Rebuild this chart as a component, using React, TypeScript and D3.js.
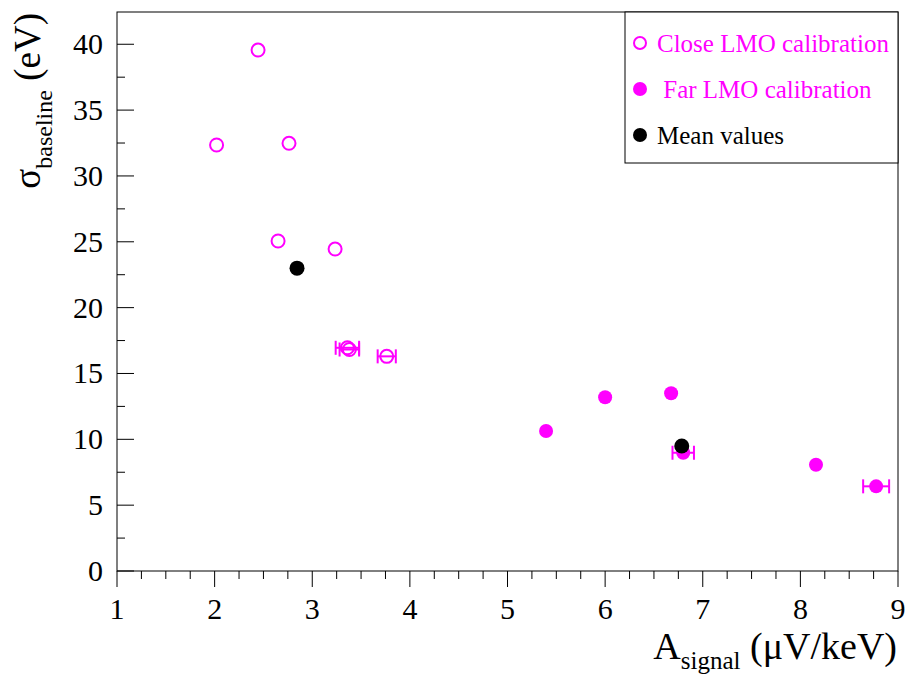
import React from 'react';
import * as d3 from 'd3';

// Close LMO calibration (open circles)
const closeX = [2.445, 2.02, 2.762, 2.65, 3.234, 3.36, 3.38, 3.763];
const closeY = [39.56, 32.35, 32.48, 25.06, 24.45, 16.95, 16.82, 16.3];
const closeXErr = [0, 0, 0, 0, 0, 0.12, 0.1, 0.093];

// Far LMO calibration (filled magenta)
const farX = [5.395, 6.0, 6.676, 6.8, 8.16, 8.776];
const farY = [10.63, 13.2, 13.5, 8.98, 8.07, 6.43];
const farXErr = [0, 0, 0, 0.11, 0, 0.133];

// Mean values (black)
const meanX = [2.844, 6.785];
const meanY = [23.0, 9.49];

const xTicks = [1, 2, 3, 4, 5, 6, 7, 8, 9];
const yTicks = [0, 5, 10, 15, 20, 25, 30, 35, 40];

const legendItems = [
  { label: 'Close LMO calibration', kind: 'open' },
  { label: ' Far LMO calibration', kind: 'far' },
  { label: 'Mean values', kind: 'mean' },
];

const W = 908;
const H = 675;
const margin = { top: 12, right: 10, bottom: 104, left: 117 };
const MAGENTA = '#ff00ff';
const FONT = '"Liberation Serif", "Times New Roman", serif';

const App = () => {
  const x = d3.scaleLinear().domain([1, 9]).range([margin.left, W - margin.right]);
  const y = d3.scaleLinear().domain([0, 42.45]).range([H - margin.bottom, margin.top]);

  const x0 = margin.left;
  const x1 = W - margin.right;
  const y0 = H - margin.bottom;
  const y1 = margin.top;

  const xMinor = d3.range(1, 9.001, 0.25);
  const yMinor = d3.range(0, 42.4, 2.5);

  const errBar = (cx: number, cy: number, err: number, key: string) => {
    if (!err) return null;
    const l = x(cx - err);
    const r = x(cx + err);
    const py = y(cy);
    return (
      <g key={key} stroke={MAGENTA} strokeWidth={2}>
        <line x1={l} x2={r} y1={py} y2={py} />
        <line x1={l} x2={l} y1={py - 7} y2={py + 7} />
        <line x1={r} x2={r} y1={py - 7} y2={py + 7} />
      </g>
    );
  };

  return (
    <svg width={W} height={H} style={{ position: 'absolute', left: 0, top: 0, background: '#fff' }}>
      <rect width={W} height={H} fill="#fff" />

      {/* frame */}
      <rect x={x0} y={y1} width={x1 - x0} height={y0 - y1} fill="none" stroke="#000" strokeWidth={1} />

      {/* x ticks */}
      {xMinor.map((v, i) => {
        const major = Math.abs(v - Math.round(v)) < 1e-6;
        return (
          <line key={'xt' + i} x1={x(v)} x2={x(v)} y1={y0} y2={y0 + (major ? 16 : 8)} stroke="#000" strokeWidth={1} />
        );
      })}
      {xTicks.map(v => (
        <text key={'xl' + v} x={x(v)} y={619} textAnchor="middle" fontFamily={FONT} fontSize={30} fill="#000">
          {v}
        </text>
      ))}

      {/* y ticks */}
      {yMinor.map((v, i) => {
        const major = Math.abs(v / 5 - Math.round(v / 5)) < 1e-6;
        return (
          <line key={'yt' + i} x1={x0} x2={x0 + (major ? 17 : 8)} y1={y(v)} y2={y(v)} stroke="#000" strokeWidth={1} />
        );
      })}
      {yTicks.map(v => (
        <text key={'yl' + v} x={103} y={y(v) + 10} textAnchor="end" fontFamily={FONT} fontSize={30} fill="#000">
          {v}
        </text>
      ))}

      {/* axis titles */}
      <text x={897} y={659} textAnchor="end" fontFamily={FONT} fontSize={38} fill="#000">
        A<tspan fontSize={25} dy={10}>signal</tspan>
        <tspan dy={-10}> (μV/keV)</tspan>
      </text>
      <text transform="translate(40,13) rotate(-90)" textAnchor="end" fontFamily={FONT} fontSize={37} fill="#000">
        σ<tspan fontSize={24} dy={12}>baseline</tspan>
        <tspan dy={-12}> (eV)</tspan>
      </text>

      {/* error bars */}
      {closeX.map((v, i) => errBar(v, closeY[i], closeXErr[i], 'ce' + i))}
      {farX.map((v, i) => errBar(v, farY[i], farXErr[i], 'fe' + i))}

      {/* points */}
      {closeX.map((v, i) => (
        <circle key={'c' + i} cx={x(v)} cy={y(closeY[i])} r={6.5} fill="none" stroke={MAGENTA} strokeWidth={2} />
      ))}
      {farX.map((v, i) => (
        <circle key={'f' + i} cx={x(v)} cy={y(farY[i])} r={7} fill={MAGENTA} />
      ))}
      {meanX.map((v, i) => (
        <circle key={'m' + i} cx={x(v)} cy={y(meanY[i])} r={7.5} fill="#000" />
      ))}

      {/* legend */}
      <rect x={625} y={y1} width={x1 - 625} height={151} fill="#fff" stroke="#000" strokeWidth={1} />
      {legendItems.map((d, i) => {
        const cy = 43 + i * 46;
        const color = d.kind === 'mean' ? '#000' : MAGENTA;
        return (
          <g key={'lg' + i}>
            {d.kind === 'open' ? (
              <circle cx={640} cy={cy} r={6} fill="none" stroke={MAGENTA} strokeWidth={2} />
            ) : (
              <circle cx={640} cy={cy} r={7} fill={color} />
            )}
            <text x={657} y={cy + 9} fontFamily={FONT} fontSize={25} fill={color} style={{ whiteSpace: 'pre' }}>
              {d.label}
            </text>
          </g>
        );
      })}
    </svg>
  );
};

export default App;
